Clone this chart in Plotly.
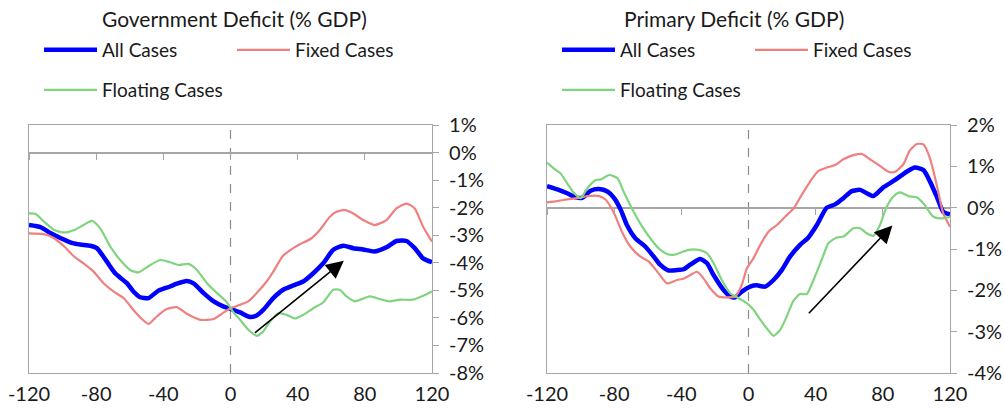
import plotly.graph_objects as go

# ---------------- Data ----------------
# Government Deficit (% GDP)
gov_all_x = [-120, -113, -107, -101, -94, -89.5, -83.5, -79.6, -73.6, -68.7, -61.7, -57.8, -53.8, -48.8, -42.9, -36, -32, -26, -22, -16, -10, -4, 0, 5.7, 11.6, 15.6, 19.5, 25.5, 31.4, 38.4, 43.3, 49.3, 55.2, 61.2, 67.1, 73.1, 79, 85.9, 92.9, 98.8, 104.8, 109.7, 114.7, 120]
gov_all_y = [-2.63, -2.71, -2.93, -3.11, -3.29, -3.34, -3.38, -3.47, -3.96, -4.38, -4.74, -5.04, -5.25, -5.28, -5.01, -4.86, -4.76, -4.66, -4.75, -5.10, -5.40, -5.59, -5.67, -5.80, -5.97, -5.91, -5.71, -5.28, -4.98, -4.80, -4.68, -4.38, -4.02, -3.53, -3.38, -3.47, -3.52, -3.59, -3.44, -3.21, -3.21, -3.47, -3.84, -3.98]

gov_fix_x = [-120, -111, -105, -99, -93, -87.5, -81.5, -75.6, -69.7, -63.7, -57.8, -52.8, -48.8, -43.9, -38, -32, -26, -18, -10, -4, 0, 5.7, 10.6, 15.6, 21.5, 25.5, 31.4, 37.4, 41.3, 48.3, 53.2, 59.2, 63.1, 68.1, 73.1, 79, 85.9, 92.9, 98.8, 104.8, 109.7, 114.7, 120]
gov_fix_y = [-2.93, -2.96, -3.11, -3.41, -3.78, -4.02, -4.32, -4.74, -5.04, -5.28, -5.71, -6.04, -6.22, -5.95, -5.68, -5.61, -5.85, -6.07, -6.04, -5.80, -5.65, -5.52, -5.40, -5.10, -4.68, -4.32, -3.74, -3.47, -3.33, -3.11, -2.81, -2.33, -2.15, -2.09, -2.21, -2.45, -2.63, -2.45, -2.03, -1.85, -2.03, -2.69, -3.23]

gov_flt_x = [-120, -116, -111, -105, -99, -93, -87.5, -82.5, -77.6, -71.6, -65.7, -59.7, -54.8, -49.8, -41.9, -36, -31, -25, -20, -14, -8, -2.6, 1.4, 5.7, 10.6, 15.6, 19.5, 23.5, 28.5, 33.4, 38.4, 43.3, 49.3, 55.2, 61.2, 65.1, 69.1, 74, 83, 88.9, 94.9, 100.8, 108.7, 114.7, 120]
gov_flt_y = [-2.21, -2.23, -2.51, -2.81, -2.90, -2.81, -2.63, -2.48, -2.75, -3.41, -3.90, -4.26, -4.35, -4.16, -3.90, -3.98, -4.08, -4.04, -4.26, -4.74, -5.10, -5.40, -5.77, -6.07, -6.43, -6.65, -6.49, -6.13, -5.83, -5.89, -6.02, -5.89, -5.65, -5.44, -4.98, -4.98, -5.22, -5.40, -5.22, -5.32, -5.40, -5.34, -5.34, -5.20, -5.04]

gov_arrow = [13.6, -6.59, 67.5, -3.93]  # tail x, tail y, head x, head y

# Primary Deficit (% GDP)
pri_all_x = [-120, -113, -108, -103, -99, -94, -89, -84, -80, -76, -72.4, -67.4, -61.5, -56.5, -52.6, -47.6, -42.6, -38.7, -34.7, -28.8, -24.8, -20.8, -14.9, -10.9, -8, -4, 1, 5, 9.9, 14.9, 19.8, 24.8, 30.7, 35.7, 40.7, 46.6, 51.6, 56.5, 61.5, 66.5, 70.4, 74.4, 80.3, 87.3, 94.2, 99.2, 104.2, 108.1, 112.1, 116, 120]
pri_all_y = [0.52, 0.43, 0.35, 0.25, 0.24, 0.41, 0.45, 0.39, 0.23, -0.06, -0.42, -0.74, -0.94, -1.18, -1.38, -1.52, -1.51, -1.49, -1.38, -1.24, -1.34, -1.63, -1.99, -2.15, -2.17, -2.03, -1.91, -1.88, -1.91, -1.75, -1.51, -1.18, -0.90, -0.72, -0.42, 0.0, 0.08, 0.23, 0.40, 0.43, 0.35, 0.28, 0.49, 0.67, 0.87, 0.97, 0.91, 0.63, 0.27, -0.10, -0.16]

pri_fix_x = [-120, -114, -108, -102, -96, -89, -85, -80, -75.4, -70.4, -64.5, -59.5, -53.5, -48.6, -42.6, -38.7, -34.7, -30.7, -26.8, -22.8, -17.9, -12.9, -8, -4, -1, 3, 7, 11.9, 16.9, 21.8, 26.8, 31.7, 36.7, 41.6, 46.6, 51.6, 56.5, 62.5, 67.4, 72.4, 78.3, 83.3, 87.3, 92.2, 96.2, 100.2, 104.2, 108.1, 112.1, 116, 120]
pri_fix_y = [0.13, 0.16, 0.20, 0.23, 0.28, 0.28, 0.19, -0.14, -0.58, -0.94, -1.18, -1.30, -1.59, -1.83, -1.75, -1.72, -1.63, -1.55, -1.71, -1.95, -2.15, -2.17, -2.15, -1.87, -1.47, -1.22, -0.90, -0.58, -0.42, -0.22, -0.02, 0.31, 0.63, 0.89, 0.97, 1.03, 1.17, 1.27, 1.30, 1.17, 1.01, 0.87, 0.87, 1.05, 1.39, 1.54, 1.53, 1.19, 0.55, -0.14, -0.46]

pri_flt_x = [-120, -116, -112, -108, -104, -100, -96, -91, -88, -83, -78, -74.4, -69.4, -64.5, -58.5, -53.6, -48.6, -44.6, -40.6, -35.7, -29.7, -24.8, -20.8, -15.9, -10.9, -5.9, -1, 3, 7, 11.9, 14.9, 18.8, 22.8, 26.8, 30.7, 34.7, 38.7, 43.6, 47.6, 52.6, 56.5, 62.5, 66.5, 70.4, 74.4, 78.3, 82.3, 86.3, 90.2, 95.2, 100.2, 104.2, 110.1, 114, 120]
pri_flt_y = [1.09, 0.95, 0.83, 0.59, 0.36, 0.23, 0.47, 0.67, 0.68, 0.79, 0.71, 0.39, -0.02, -0.38, -0.74, -0.98, -1.12, -1.14, -1.09, -1.02, -1.02, -1.10, -1.34, -1.75, -2.07, -2.19, -2.31, -2.47, -2.71, -2.97, -3.10, -2.96, -2.63, -2.25, -2.09, -2.09, -1.75, -1.26, -0.86, -0.72, -0.70, -0.50, -0.50, -0.62, -0.68, -0.42, 0.02, 0.27, 0.37, 0.28, 0.25, 0.10, -0.22, -0.26, -0.22]

pri_arrow = [35.1, -2.59, 85.7, -0.43]

# Axis ticks / labels
x_ticks = [-120, -80, -40, 0, 40, 80, 120]
x_ticklabels = ["-120", "-80", "-40", "0", "40", "80", "120"]
gov_y_ticks = [1, 0, -1, -2, -3, -4, -5, -6, -7, -8]
gov_y_labels = ["1%", "0%", "-1%", "-2%", "-3%", "-4%", "-5%", "-6%", "-7%", "-8%"]
pri_y_ticks = [2, 1, 0, -1, -2, -3, -4]
pri_y_labels = ["2%", "1%", "0%", "-1%", "-2%", "-3%", "-4%"]
gov_range = [-8, 1]
pri_range = [-4, 2]

titles = ["Government Deficit (% GDP)", "Primary Deficit (% GDP)"]
series_names = ["All Cases", "Fixed Cases", "Floating Cases"]

# ---------------- Styling ----------------
FONT = "Lato"
TXT = "#1a1a1a"
GRID = "#a6a6a6"
COL = {"All Cases": "#0000ff", "Fixed Cases": "#f08080", "Floating Cases": "#80d480"}
WID = {"All Cases": 4.5, "Fixed Cases": 2.2, "Floating Cases": 2.2}

W, H = 1005, 414
left_dom = [29 / W, 432 / W]
right_dom = [547 / W, 950 / W]
y_dom = [(H - 373) / H, (H - 125) / H]

fig = go.Figure()

panels = [
    dict(xa="x", ya="y", data=[(gov_all_x, gov_all_y), (gov_fix_x, gov_fix_y), (gov_flt_x, gov_flt_y)],
         legends=["legend", "legend", "legend2"]),
    dict(xa="x2", ya="y2", data=[(pri_all_x, pri_all_y), (pri_fix_x, pri_fix_y), (pri_flt_x, pri_flt_y)],
         legends=["legend3", "legend3", "legend4"]),
]

for p in panels:
    for name, (xs, ys), lg in zip(series_names, p["data"], p["legends"]):
        fig.add_trace(go.Scatter(
            x=xs, y=ys, mode="lines", name=name,
            line=dict(color=COL[name], width=WID[name], shape="spline", smoothing=0.6),
            xaxis=p["xa"], yaxis=p["ya"], legend=lg, showlegend=True,
        ))

axis_font = dict(family=FONT, size=20, color=TXT)

common_x = dict(range=[-120, 120], tickvals=x_ticks, ticktext=x_ticklabels, showgrid=False,
                zeroline=False, showline=True, linecolor=GRID, linewidth=1.2, mirror=True,
                ticks="", tickfont=axis_font, fixedrange=True, automargin=False,
                ticklabelstandoff=3)
common_y = dict(domain=y_dom, side="right", showgrid=False, zeroline=True, zerolinecolor=GRID,
                zerolinewidth=1.5, showline=True, linecolor=GRID, linewidth=1.2, mirror=True,
                ticks="outside", ticklen=6, tickcolor=GRID, tickfont=axis_font, fixedrange=True,
                automargin=False, ticklabelstandoff=6)
fig.update_layout(
    xaxis=dict(domain=left_dom, anchor="y", **common_x),
    xaxis2=dict(domain=right_dom, anchor="y2", **common_x),
    yaxis=dict(anchor="x", range=gov_range, tickvals=gov_y_ticks, ticktext=gov_y_labels, **common_y),
    yaxis2=dict(anchor="x2", range=pri_range, tickvals=pri_y_ticks, ticktext=pri_y_labels, **common_y),
)

# tick marks on the zero line (axes crossing at 0)
def zero_pos(rng):
    return y_dom[0] + (0 - rng[0]) / (rng[1] - rng[0]) * (y_dom[1] - y_dom[0])

fig.update_layout(
    xaxis3=dict(overlaying="x", anchor="free", position=zero_pos(gov_range), domain=left_dom,
                range=[-120, 120], tickvals=x_ticks, showticklabels=False, ticks="outside",
                ticklen=6, tickcolor=GRID, showline=False, showgrid=False, zeroline=False,
                automargin=False, fixedrange=True),
    xaxis4=dict(overlaying="x2", anchor="free", position=zero_pos(pri_range), domain=right_dom,
                range=[-120, 120], tickvals=x_ticks, showticklabels=False, ticks="outside",
                ticklen=6, tickcolor=GRID, showline=False, showgrid=False, zeroline=False,
                automargin=False, fixedrange=True),
)
# invisible helper traces to activate the tick-only axes
fig.add_trace(go.Scatter(x=[-120, 120], y=[0, 0], xaxis="x3", yaxis="y", mode="lines",
                         line=dict(width=0), hoverinfo="skip", showlegend=False))
fig.add_trace(go.Scatter(x=[-120, 120], y=[0, 0], xaxis="x4", yaxis="y2", mode="lines",
                         line=dict(width=0), hoverinfo="skip", showlegend=False))

# dashed vertical line at event date 0
for xr, yr in [("x", "y domain"), ("x2", "y2 domain")]:
    fig.add_shape(type="line", xref=xr, yref=yr, x0=0, x1=0, y0=0, y1=1,
                  line=dict(color="#8c8c8c", width=1.2, dash="dash"), layer="below")

# arrows
for (x0, y0, x1, y1), xr, yr in [(gov_arrow, "x", "y"), (pri_arrow, "x2", "y2")]:
    fig.add_annotation(x=x1, y=y1, ax=x0, ay=y0, xref=xr, yref=yr, axref=xr, ayref=yr,
                       text="", showarrow=True, arrowhead=2, arrowsize=2.2, arrowwidth=1.6,
                       arrowcolor="black")

# titles
for t, cx in zip(titles, [234.5 / W, 733.5 / W]):
    fig.add_annotation(text=t, x=cx, y=1 - 19 / H, xref="paper", yref="paper", showarrow=False,
                       xanchor="center", yanchor="middle", font=dict(family=FONT, size=21, color=TXT))

leg_common = dict(orientation="h", font=dict(family=FONT, size=19, color=TXT), itemwidth=53,
                  entrywidth=125, entrywidthmode="pixels", bgcolor="rgba(0,0,0,0)",
                  xanchor="left", yanchor="middle", itemclick=False, itemdoubleclick=False)
fig.update_layout(
    legend=dict(x=39 / W, y=1 - 50 / H, **leg_common),
    legend2=dict(x=39 / W, y=1 - 90 / H, **leg_common),
    legend3=dict(x=557 / W, y=1 - 50 / H, **leg_common),
    legend4=dict(x=557 / W, y=1 - 90 / H, **leg_common),
)

fig.update_layout(
    width=W, height=H, margin=dict(l=0, r=0, t=0, b=0, autoexpand=False),
    paper_bgcolor="white", plot_bgcolor="white",
    font=dict(family=FONT, size=20, color=TXT),
)

# remove the default 8px page margin so the figure fills the window exactly
fig.write_html("out.html", config={"displayModeBar": False},
               post_script="document.body.style.margin='0px';")
